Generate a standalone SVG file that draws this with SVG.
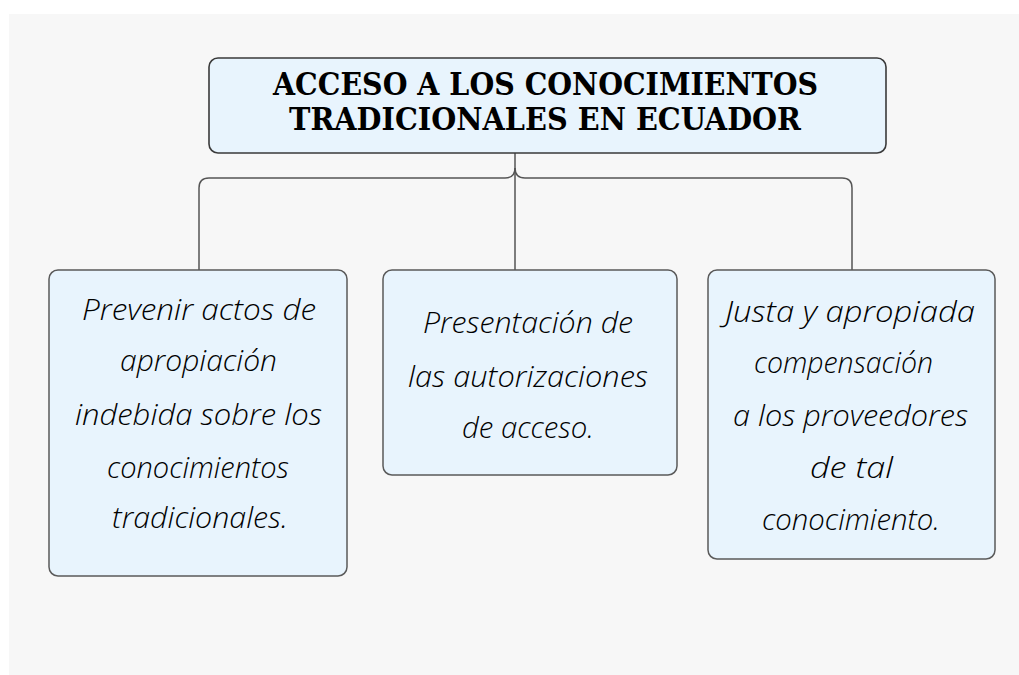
<svg xmlns="http://www.w3.org/2000/svg" width="1019" height="675" viewBox="0 0 1019 675">
<style>
.box{fill:#e8f4fd;stroke:#5a5a5a;stroke-width:1.5}
.root{fill:#e8f4fd;stroke:#3a3a3a;stroke-width:1.6}
.title{font-family:"DejaVu Serif","Liberation Serif",serif;font-weight:bold;font-size:31px;fill:#000}
.body{font-family:"Open Sans","Liberation Sans",sans-serif;font-style:italic;font-weight:300;font-size:30px;fill:#000}
.conn{fill:none;stroke:#555;stroke-width:1.5}
</style>
<rect x="0" y="0" width="1019" height="675" fill="#ffffff"/>
<rect x="9" y="14" width="1010" height="661" fill="#f7f7f7"/>
<g id="connectors">
<path class="conn" d="M515 153 V270"/>
<path class="conn" d="M515 168 Q515 178 505 178 H209 Q199 178 199 188 V270"/>
<path class="conn" d="M515 168 Q515 178 525 178 H842 Q852 178 852 188 V270"/>
</g>
<g id="root">
<rect class="root" x="209" y="58" width="677" height="95" rx="9"/>
<text class="title" x="273" y="95" textLength="545" lengthAdjust="spacingAndGlyphs">ACCESO A LOS CONOCIMIENTOS</text>
<text class="title" x="289" y="130" textLength="512" lengthAdjust="spacingAndGlyphs">TRADICIONALES EN ECUADOR</text>
</g>
<g id="node-left">
<rect class="box" x="49" y="270" width="298" height="306" rx="9"/>
<text class="body" x="82" y="320" textLength="234" lengthAdjust="spacingAndGlyphs">Prevenir actos de</text>
<text class="body" x="120" y="371" textLength="157" lengthAdjust="spacingAndGlyphs">apropiación</text>
<text class="body" x="75" y="425" textLength="247" lengthAdjust="spacingAndGlyphs">indebida sobre los</text>
<text class="body" x="107" y="478" textLength="182" lengthAdjust="spacingAndGlyphs">conocimientos</text>
<text class="body" x="112" y="528" textLength="176" lengthAdjust="spacingAndGlyphs">tradicionales.</text>
</g>
<g id="node-middle">
<rect class="box" x="383" y="270" width="294" height="205" rx="9"/>
<text class="body" x="423" y="333" textLength="210" lengthAdjust="spacingAndGlyphs">Presentación de</text>
<text class="body" x="408" y="387" textLength="240" lengthAdjust="spacingAndGlyphs">las autorizaciones</text>
<text class="body" x="462" y="438" textLength="132" lengthAdjust="spacingAndGlyphs">de acceso.</text>
</g>
<g id="node-right">
<rect class="box" x="708" y="270" width="287" height="289" rx="9"/>
<text class="body" x="725" y="322" textLength="250" lengthAdjust="spacingAndGlyphs">Justa y apropiada</text>
<text class="body" x="754" y="373" textLength="179" lengthAdjust="spacingAndGlyphs">compensación</text>
<text class="body" x="733" y="426" textLength="235" lengthAdjust="spacingAndGlyphs">a los proveedores</text>
<text class="body" x="810" y="478" textLength="83" lengthAdjust="spacingAndGlyphs">de tal</text>
<text class="body" x="762" y="530" textLength="178" lengthAdjust="spacingAndGlyphs">conocimiento.</text>
</g>
</svg>
